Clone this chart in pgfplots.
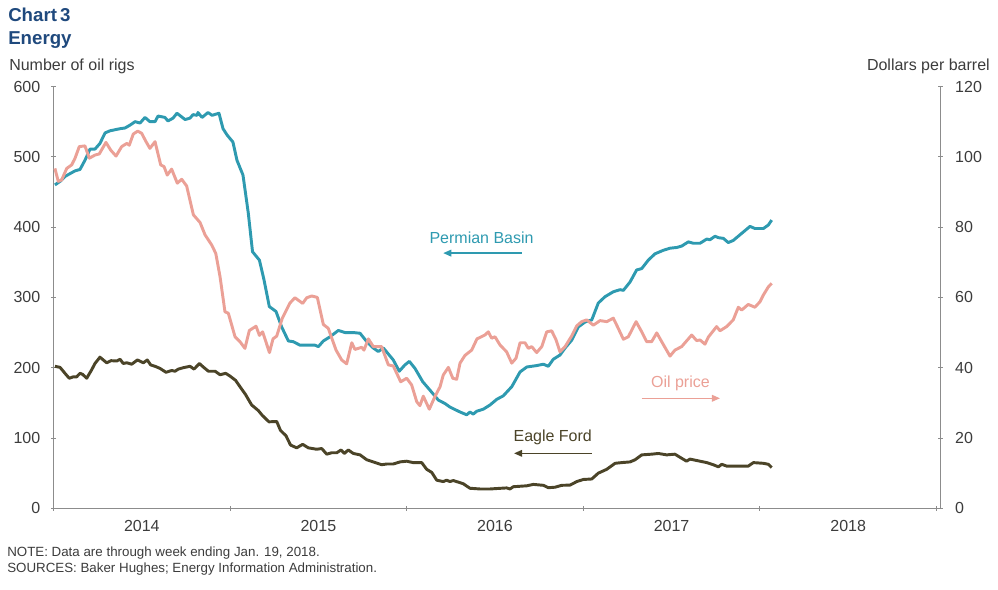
\documentclass[border=0pt]{standalone}
\usepackage{fontspec}
\setmainfont{Liberation Sans}
\usepackage{pgfplots}
\pgfplotsset{compat=1.18}
\usetikzlibrary{arrows.meta}
\definecolor{teal1}{RGB}{46,154,176}
\definecolor{pink1}{RGB}{235,160,150}
\definecolor{olive1}{RGB}{75,68,40}
\definecolor{title1}{RGB}{31,73,125}
\definecolor{axgray}{RGB}{140,140,140}
\definecolor{txt}{RGB}{60,60,60}
\begin{document}
\begin{tikzpicture}
\path[use as bounding box] (0,0) rectangle (748.5pt,441.75pt);
\pgfplotsset{common/.style={scale only axis, width=664.875pt, height=316.35pt,
  at={(40.125pt,60.525pt)}, anchor=south west, xmin=2014, xmax=2019.02,
  /pgf/number format/assume math mode=true,
  ticklabel style={font=\fontsize{12}{14}\selectfont, text=txt},
  axis line style={draw=axgray, line width=0.75pt, -},
  every outer x axis line/.append style={-},
  every outer y axis line/.append style={-},
  tick style={draw=axgray, line width=0.75pt},
  tick align=outside, major tick length=3.75pt, clip=false}}

\begin{axis}[common, axis x line=bottom, axis y line=left,
  every outer x axis line/.append style={-},
  every outer y axis line/.append style={-},
  ymin=0, ymax=600, ytick={0,100,...,600},
  xtick={2014,2015,2016,2017,2018,2019}, xticklabels={},
  extra x ticks={2014.5,2015.5,2016.5,2017.5,2018.5},
  extra x tick labels={2014,2015,2016,2017,2018},
  extra x tick style={tick style={draw=none}},
  xticklabel style={yshift=-3.75pt},
  yticklabel style={xshift=-4.5pt},
  ]
% Permian Basin
\addplot[teal1, line width=2.2pt, line join=round] table {
2014.008 460
2014.037 465
2014.065 472
2014.093 476
2014.122 480
2014.150 482
2014.178 495
2014.207 511
2014.235 511
2014.263 519
2014.292 534
2014.320 537
2014.377 540
2014.405 541
2014.433 545
2014.462 550
2014.490 548
2014.518 556
2014.546 550
2014.575 550
2014.592 558
2014.631 556
2014.648 551
2014.677 555
2014.699 562
2014.745 553
2014.773 555
2014.790 560
2014.813 559
2014.818 563
2014.841 556
2014.875 563
2014.898 559
2014.937 562
2014.960 540
2014.983 531
2015.016 521
2015.039 495
2015.073 474
2015.103 420
2015.127 365
2015.166 353
2015.192 325
2015.222 287
2015.260 280
2015.292 258
2015.330 238
2015.358 237
2015.396 232
2015.481 232
2015.500 230
2015.528 238
2015.566 244
2015.613 253
2015.651 250
2015.698 250
2015.736 249
2015.774 237
2015.811 228
2015.839 223
2015.868 228
2015.924 211
2015.958 195
2015.990 204
2016.015 209
2016.047 199
2016.091 180
2016.132 168
2016.179 154
2016.217 149
2016.245 144
2016.302 137
2016.340 133
2016.358 137
2016.377 134
2016.396 138
2016.434 141
2016.472 147
2016.510 155
2016.547 160
2016.595 173
2016.642 194
2016.680 201
2016.736 203
2016.774 205
2016.802 202
2016.830 212
2016.868 218
2016.897 228
2016.934 239
2016.972 258
2017.010 265
2017.048 268
2017.085 292
2017.123 301
2017.170 308
2017.208 311
2017.227 310
2017.265 322
2017.302 339
2017.331 341
2017.368 353
2017.406 362
2017.453 367
2017.491 370
2017.529 371
2017.557 373
2017.595 379
2017.623 377
2017.661 377
2017.699 383
2017.717 382
2017.746 387
2017.765 385
2017.793 384
2017.821 378
2017.849 381
2017.887 389
2017.944 401
2017.972 398
2018.020 398
2018.048 403
2018.067 410
};
% Eagle Ford
\addplot[olive1, line width=2.2pt, line join=round] table {
2014.008 202
2014.037 200.5
2014.065 192
2014.089 185
2014.112 187
2014.131 187
2014.150 192
2014.165 190.5
2014.188 185
2014.216 197
2014.235 206
2014.263 215
2014.301 207
2014.326 210
2014.358 209.5
2014.377 212
2014.395 206
2014.415 207
2014.443 205
2014.475 211
2014.509 207
2014.531 211
2014.550 204
2014.575 202
2014.603 199
2014.637 193.5
2014.669 196
2014.688 195
2014.707 198
2014.735 200
2014.773 202
2014.796 198
2014.826 206
2014.848 201
2014.877 195
2014.915 195
2014.943 190
2014.975 192
2015.000 188
2015.031 182
2015.056 173
2015.087 162
2015.122 147
2015.160 139
2015.183 132
2015.220 123
2015.264 123.5
2015.285 111
2015.317 103
2015.342 90
2015.377 86
2015.411 91
2015.443 86
2015.490 84
2015.519 85
2015.547 77
2015.575 79
2015.604 79
2015.628 83
2015.647 78
2015.669 83
2015.698 78
2015.736 76
2015.774 69
2015.811 66
2015.858 62
2015.887 63
2015.924 63
2015.962 66
2016.000 67
2016.037 65
2016.085 65
2016.113 55.5
2016.142 51
2016.170 40
2016.207 38
2016.226 40
2016.245 38
2016.264 39.5
2016.320 35
2016.358 28.5
2016.415 27.5
2016.472 27.5
2016.566 29
2016.585 27.5
2016.604 30.7
2016.680 32
2016.717 34
2016.774 32.7
2016.802 29.3
2016.840 30
2016.878 32.7
2016.925 33
2016.963 38
2017.000 41
2017.048 41.7
2017.085 50
2017.133 55.5
2017.180 64
2017.217 65
2017.265 66
2017.293 69
2017.331 76
2017.387 77
2017.425 78
2017.472 76
2017.519 77
2017.548 72.5
2017.585 67
2017.604 70
2017.642 68
2017.699 65
2017.736 62
2017.765 59
2017.784 62.6
2017.812 60
2017.934 60
2017.963 65
2018.020 64
2018.048 62.6
2018.067 58
};
% annotations
\node[teal1, font=\fontsize{12}{14}\selectfont, anchor=base] at (axis cs:2016.424,377) {Permian Basin};
\draw[teal1, line width=1pt, -{Triangle[length=6pt,width=5pt]}] (axis cs:2016.651,363) -- (axis cs:2016.207,363);
\node[pink1, font=\fontsize{12}{14}\selectfont, anchor=base] at (axis cs:2017.550,172.5) {Oil price};
\draw[pink1, line width=1pt, -{Triangle[length=6pt,width=5pt]}] (axis cs:2017.331,156.5) -- (axis cs:2017.774,156.5);
\node[olive1, font=\fontsize{12}{14}\selectfont, anchor=base] at (axis cs:2016.827,95.7) {Eagle Ford};
\draw[olive1, line width=1pt, -{Triangle[length=6pt,width=5pt]}] (axis cs:2017.047,78.2) -- (axis cs:2016.608,78.2);
\end{axis}

\begin{axis}[common, axis x line=none, axis y line=right,
  every outer x axis line/.append style={-},
  every outer y axis line/.append style={-},
  ymin=0, ymax=120, ytick={0,20,...,120},
  yticklabel style={xshift=6pt},
  ]
% Oil price (dollars per barrel)
\addplot[pink1, line width=2.2pt, line join=round] table {
2014.008 96.7
2014.027 93
2014.046 93.4
2014.075 96.7
2014.103 97.7
2014.122 99.6
2014.146 102.9
2014.178 103.1
2014.203 99.6
2014.235 100.5
2014.259 100.8
2014.297 104.1
2014.324 101.9
2014.354 100.2
2014.386 102.9
2014.415 103.8
2014.429 103.3
2014.452 106.5
2014.477 107.3
2014.499 106.7
2014.524 104.3
2014.546 102.4
2014.575 104.3
2014.607 97.7
2014.626 97.2
2014.644 94.8
2014.669 96.5
2014.701 92.5
2014.726 93.6
2014.754 91.7
2014.792 83.5
2014.830 81.3
2014.858 77.8
2014.896 74.9
2014.919 72.5
2014.943 65.9
2014.971 55.9
2014.990 55.5
2015.028 48.8
2015.056 47.4
2015.084 45.5
2015.109 50.6
2015.147 51.8
2015.166 49.2
2015.184 50.2
2015.223 44.3
2015.243 48.2
2015.264 49
2015.295 54
2015.339 58.4
2015.367 59.9
2015.411 58.3
2015.434 59.9
2015.462 60.4
2015.494 60
2015.528 52.3
2015.556 51.2
2015.600 45
2015.632 42.2
2015.660 41.1
2015.689 47.1
2015.707 45.2
2015.745 45.8
2015.758 45
2015.783 48.2
2015.811 46
2015.858 46
2015.896 40.8
2015.924 40.5
2015.966 36
2016.000 37
2016.028 35.1
2016.057 30.3
2016.075 29.2
2016.094 31.9
2016.128 28.2
2016.160 31.8
2016.189 34.6
2016.207 37.9
2016.236 40.1
2016.261 37
2016.283 36.7
2016.302 41.3
2016.330 43.5
2016.368 45
2016.398 48.2
2016.443 49.3
2016.462 50.2
2016.481 48.4
2016.500 48.8
2016.528 46.5
2016.566 44.5
2016.595 41.3
2016.619 42.7
2016.642 47.1
2016.670 47.1
2016.689 45.5
2016.708 46
2016.736 44.3
2016.765 46
2016.793 50.2
2016.821 50.5
2016.846 47.9
2016.868 44.5
2016.897 46
2016.934 49
2016.963 51.9
2016.991 53.1
2017.019 53.6
2017.057 52.1
2017.095 53.4
2017.133 53.1
2017.170 54.1
2017.198 51.2
2017.227 48.1
2017.255 48.8
2017.299 53.1
2017.331 50.2
2017.359 47.4
2017.387 47.4
2017.416 49.9
2017.444 47.4
2017.491 43.3
2017.519 45
2017.557 46
2017.614 49.3
2017.642 47.7
2017.661 47.9
2017.689 46.7
2017.708 48.7
2017.755 51.7
2017.774 50.5
2017.812 51.7
2017.849 53.6
2017.878 57.2
2017.897 56.4
2017.934 58
2017.972 57.2
2018.001 58.8
2018.020 60.7
2018.048 63
2018.067 64
};
\end{axis}

\node[anchor=base west, inner sep=0pt, font=\bfseries\fontsize{14}{16}\selectfont, text=title1] at (6pt,425.5pt) {Chart\,3};
\node[anchor=base west, inner sep=0pt, font=\bfseries\fontsize{14}{16}\selectfont, text=title1] at (6pt,408pt) {Energy};
\node[anchor=base west, font=\fontsize{12}{14}\selectfont, text=txt, inner sep=0pt] at (6.75pt,388.5pt) {Number of oil rigs};
\node[anchor=base east, font=\fontsize{12}{14}\selectfont, text=txt, inner sep=0pt] at (742.5pt,388.5pt) {Dollars per barrel};
\node[anchor=base west, font=\fontsize{10}{12}\selectfont, text=txt, inner sep=0pt] at (5.25pt,24.75pt) {NOTE: Data are through week ending Jan. 19, 2018.};
\node[anchor=base west, font=\fontsize{10}{12}\selectfont, text=txt, inner sep=0pt] at (5.25pt,12.2pt) {SOURCES: Baker Hughes; Energy Information Administration.};
\end{tikzpicture}
\end{document}
